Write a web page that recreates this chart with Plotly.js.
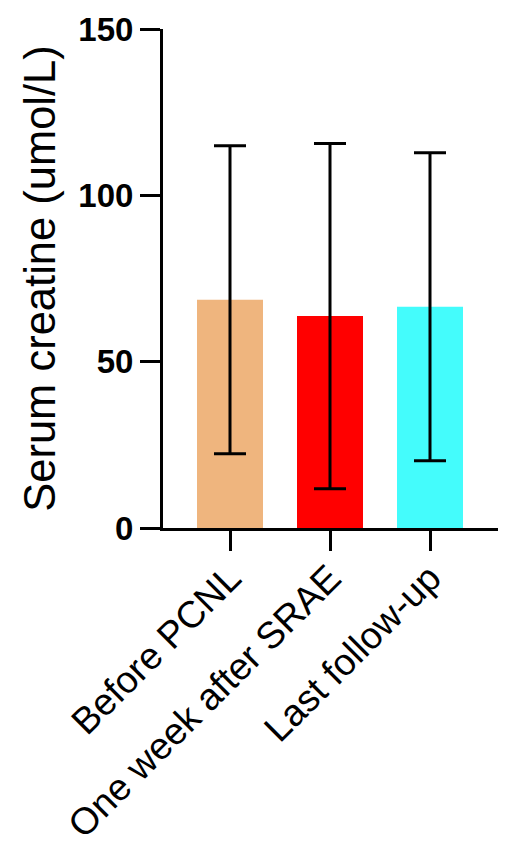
<!DOCTYPE html>
<html>
<head>
<meta charset="utf-8">
<script src="https://cdn.plot.ly/plotly-3.0.1.min.js"></script>
<style>
  html, body { margin: 0; padding: 0; background: #fff; }
  #myDiv { width: 511px; height: 859px; }
</style>
</head>
<body>
<div id="myDiv"></div>
<script>
const groups = ['Before PCNL', 'One week after SRAE', 'Last follow-up'];
const means = [68.6, 63.7, 66.5];
const sds = [46.3, 51.9, 46.3];
const barColors = ['#EFB57E', '#FF0000', '#44FCFC'];
const yTicks = [0, 50, 100, 150];

const font = 'Liberation Sans, Arial, sans-serif';

const trace = {
  x: groups,
  y: means,
  type: 'bar',
  width: 0.66,
  marker: { color: barColors, line: { width: 0 } },
  error_y: {
    type: 'data',
    array: sds,
    symmetric: true,
    color: '#000',
    thickness: 3,
    width: 16,
  },
  hoverinfo: 'none',
};

const layout = {
  width: 511,
  height: 859,
  margin: { l: 163, r: 13, t: 29, b: 331 },
  paper_bgcolor: '#fff',
  plot_bgcolor: '#fff',
  showlegend: false,
  font: { family: font, color: '#000' },
  xaxis: {
    type: 'category',
    range: [-0.67, 2.68],
    showline: true,
    linecolor: '#000',
    linewidth: 3,
    ticks: 'outside',
    ticklen: 20,
    tickwidth: 3,
    tickcolor: '#000',
    tickangle: -45,
    ticklabelstandoff: -10,
    tickfont: { size: 37.5, family: font, color: '#000' },
    showgrid: false,
    zeroline: false,
    fixedrange: true,
  },
  yaxis: {
    range: [0, 150],
    tickvals: yTicks,
    ticktext: yTicks.map(String),
    showline: true,
    linecolor: '#000',
    linewidth: 3,
    ticks: 'outside',
    ticklen: 20,
    tickwidth: 3,
    tickcolor: '#000',
    tickfont: { size: 33, family: font, color: '#000', weight: 'bold' },
    showgrid: false,
    zeroline: false,
    fixedrange: true,
    title: {
      text: 'Serum creatine (umol/L)',
      font: { size: 43.5, family: font, color: '#000' },
      standoff: 10,
    },
  },
};

Plotly.newPlot('myDiv', [trace], layout, { displayModeBar: false, staticPlot: true });
</script>
</body>
</html>
